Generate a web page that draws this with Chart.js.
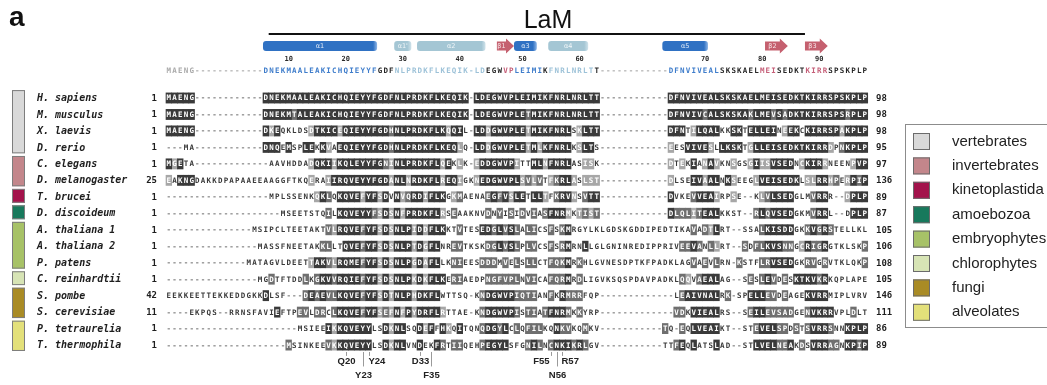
<!DOCTYPE html>
<html>
<head>
<meta charset="utf-8">
<title>LaM alignment</title>
<script src="https://cdn.jsdelivr.net/npm/chart.js@4.4.1/dist/chart.umd.min.js"></script>
<style>
  body { margin: 0; background: #ffffff; }
  canvas { display: block; }
</style>
</head>
<body>
<canvas id="alignChart" width="1047" height="385"></canvas>
<script>
// rows of the alignment, top to bottom
const species = ['H. sapiens', 'M. musculus', 'X. laevis', 'D. rerio', 'C. elegans', 'D. melanogaster',
  'T. brucei', 'D. discoideum', 'A. thaliana 1', 'A. thaliana 2', 'P. patens', 'C. reinhardtii',
  'S. pombe', 'S. cerevisiae', 'P. tetraurelia', 'T. thermophila'];
const startNums = [1, 1, 1, 1, 1, 25, 1, 1, 1, 1, 1, 1, 42, 11, 1, 1];
const endNums = [98, 98, 98, 95, 97, 136, 89, 87, 105, 106, 108, 105, 146, 111, 86, 89];

// aligned sequences, split in blocks with '|' (17, 36, 1, 22, 12, 35 columns)
const sequences = [
  'MAENG------------|DNEKMAALEAKICHQIEYYFGDFNLPRDKFLKEQIK|-|LDEGWVPLEIMIKFNRLNRLTT|------------|DFNVIVEALSKSKAELMEISEDKTKIRRSPSKPLP',
  'MAENG------------|DNEKMTALEAKICHQIEYYFGDFNLPRDKFLKEQIK|-|LDEGWVPLETMIKFNRLNRLTT|------------|DFNVIVCALSKSKAKLMEVSADKTKIRRSPSRPLP',
  'MAENG------------|DKEQKLDSDTKICEQIEYYFGDHNLPRDKFLKQQIL|-|LDDGWVPLETMIKFNRLSKLTT|------------|DFNTILQALKKSKTELLEINEEKCKIRRSPAKPLP',
  '---MA------------|DNQEMSPLEKKVAEQIEYYFGDHNLPRDKFLKEQLQ|-|LDDGWVPLETMLKFNRLKSLTS|------------|EESVIVESLLKSKTGLLEISEDKTKIRRDPNKPLP',
  'MGETA------------|-AAVHDDADQKIIKQLEYYFGNINLPRDKFLQEKLK|-|EDDGWVPITTMLNFNRLASISK|------------|DTEKIANAVKNSGSGIISVSEDNCKIRRNEENPVP',
  'EAKNGDAKKDPAPAAEE|AAGGFTKQERAIIRQVEYYFGDANLNRDKFLREQIG|K|NEDGWVPLSVLVTFKRLASLST|------------|DLSEIVAALNKSEEGLVEISEDKLSLRRHPERPIP',
  '-----------------|-MPLSSENKQKLQKQVEFYFSDVNVQRDIFLKGKMA|E|NAEGFVSLETLLTFKRVNSVTT|------------|DVKEVVEAIRPSE--KLVLSEDGLMVRRR--DPLP',
  '-----------------|---MSEETSTQILKQVEYYFSDSNFPRDKFLRSEAA|K|NVDNYISIDVIASFNRMKTIST|------------|DLQLITEALKKST--RLQVSEDGKMVRRL--DPLP',
  '---------------MS|IPCLTEETAKTVLRQVEFYFSDSNLPIDDFLKKTVT|E|SEDGLVSLALICSFSKMRGYLK|LGDSKGDDIPED|TIKAVADTLRT--SSALKISDDGKKVGRSTELLKL',
  '----------------M|ASSFNEETAKKLLTQVEFYFSDSNLPTDGFLNREVT|K|SKDGLVSLPLVCSFSRMRNLLG|LGNINREDIPPR|IVEEVANLLRT--SDFLKVSNNGCRIGRGTKLSKP',
  '--------------MAT|AGVLDEETTAKVLRQMEFYFSDSNLPGDAFLLKNIE|E|SDDDMVELSLLCTFQKMRKHLG|VNESDPTKFPAD|KLAGVAEVLRN-KSTFLRVSEDGKRVGRVTKLQKP',
  '----------------M|GDTFTDDLKGKVVRQIEFYFSDSNLPKDKFLKERIA|E|DPNGFVPLNVICAFQRMRDLIG|VKSQSPDAVPAD|KLQQVAEALAG--SESLEVDESKTKVKRKQPLAPE',
  'EEKKEETTEKKEDDGKK|DLSF---DEAEVLKQVEFYFSDTNLPHDKFLWTTSQ|-|KNDGWVPIQTIANFKRMRRFQP|------------|-LEAIVNALRK-SPELLEVDEAGEKVRRMIPLVRV',
  '----EKPQS--RRNSFA|VIEFTPEVLDRCLKQVEFYFSEFNFPYDRFLRTTAE|-|KNDGWVPISTIATFNRMKKYRP|------------|-VDKVIEALRS--SEILEVSADGENVKRRVPLDLT',
  '-----------------|------MSIEEIKKQVEYYLSDKNLSQDEFFHKQIT|Q|NQDGYLCLQFILKQNKVKQMKV|-----------T|Q-EQLVEAIKT--STEVELSPDSTSVRRSNNKPLP',
  '-----------------|----MSINKEEVKKQVEYYLSDKNLVNDEKFRTIIQ|E|HPEGYLSFGNILNCNKIKRLGV|-----------T|TFEQLATSLAD--STLVELNEAKDSVRRAGNKPIP'
];

// shading: 3 dark, 2 mid grey, 1 light grey, 0 none
const shading = [
  '33333000000000000|333333333333333333333333333333333333|0|3333333333333333333333|000000000000|33333333333333333333333333333333333',
  '33333000000000000|333332333333333333333333333333333333|0|3333333332333333333333|000000000000|33333323333333233323233333333332333',
  '33333000000000000|313000001333313333333323333333331330|0|3313333331333333301333|000000000000|33301333300330333330133033333313333',
  '00000000000000000|333030033031033333333323333333333310|0|3313333331313333301330|000000000000|10033331033330133333333333331023333',
  '31300000000000000|000000001333133333333213333333313010|0|1333333100331333300110|000000000000|10103013100100131133330133310000133',
  '10333000000000000|000000001001333333333313313333313310|0|1333333312120123310111|000000000000|10003313303100013333333011331201323',
  '00000000000000000|000000000132033331331303123313330120|0|0023231330331023310233|000000000000|30002333100100001233330002330001333',
  '00000000000000000|000000000002033333321313133333310200|0|0020202020202333101212|000000000000|32221233300000023233330002330000333',
  '00000000000000000|000000000002133332331313331313330020|0|0332323202200202300000|000000000000|00002021300000002333330023232000000',
  '00000000000000000|000000000022003332331313331313300220|0|0022323202200202300300|000000000000|00223202100002022333220132230000002',
  '00000000000000000|000000001332133332331313331313300220|0|0222020202200222302000|000000000000|00002020200020002233330022020000002',
  '00000000000000000|020000020233233332331313331313330220|0|0022222202200222302000|000000000000|00210233300000202320203333230000000',
  '00000000000000000|300000023232233332331313331333300000|0|0233333222200203222000|000000000000|00233333302000333220200033330000000',
  '00000000000000000|003000220220233332331213131333310000|0|0233333202202333202000|000000000000|02203333300000233222220023333000200',
  '00000000000000000|000000000003133333300313300313031030|0|0233230202220032200200|000000000002|00203333300000023332202023332003333',
  '00000000000000000|000020000002133333300313300300320220|0|0233330002320233323200|000000000000|02303000300000033332230203332203323'
];

// colour code of the reference line (g grey, b helix, l light helix, r strand, k plain)
const refColors = 'ggggggggggggggggg|bbbbbbbbbbbbbbbbbbbbkkklllllllllllll|l|llkkkrrbbbbbkllllllllk|gggggggggggg|bbbbbbbbbkkkkkkkrrrkkkkkrrrrkkkkkkk';

// secondary structure elements (alignment columns)
const ssLabels = ['α1', "α1'", 'α2', 'β1', 'α3', 'α4', 'α5', 'β2', 'β3'];
const ssKinds = ['helix', 'pale', 'pale', 'strand', 'helix', 'pale', 'helix', 'strand', 'strand'];
const ssFirstCol = [17, 40, 44, 58, 61, 67, 87, 105, 112];
const ssLastCol = [36, 42, 55, 60, 64, 73, 94, 108, 115];

const rulerTicks = [10, 20, 30, 40, 50, 60, 70, 80, 90];

const siteLabels = ['Q20', 'Y23', 'Y24', 'D33', 'F35', 'F55', 'N56', 'R57'];
const siteTier = [0, 1, 0, 0, 1, 0, 1, 0];
const siteAlign = ['center', 'center', 'left', 'center', 'center', 'right', 'center', 'left'];

const groupNames = ['vertebrates', 'invertebrates', 'kinetoplastida', 'amoebozoa', 'embryophytes', 'chlorophytes', 'fungi', 'alveolates'];
const groupColors = ['#d9d9d9', '#c3868b', '#a3124b', '#17795c', '#a7c267', '#d7e4b5', '#a98b25', '#e3e07a'];
const groupFirstRow = [0, 4, 6, 7, 8, 11, 12, 14];
const groupLastRow = [3, 5, 6, 7, 10, 11, 13, 15];

// ---- layout ----
const NCOL = 123;
const SEGMENTS = [17, 36, 1, 22, 12, 35];
const COL_W = 5.705, ALIGN_LEFT = 166;
const ROW_H = 16.47, FIRST_ROW_Y = 98;
const SHADE_FILL = { '3': '#3a3a3a', '2': '#6f6f6f', '1': '#a7a7a7' };
const REF_FILL = { g: '#aaaaaa', b: '#3f7dcb', l: '#9dc2d8', r: '#c55f78', k: '#262626' };
const RES_FONT = 'bold 7.5px "DejaVu Sans Mono", monospace';

function joinSegments(str) {
  return str.split('|').map((part, i) => {
    const n = SEGMENTS[i];
    if (part.length >= n) return part.slice(0, n);
    return part + part.slice(-1).repeat(n - part.length);
  }).join('');
}

const seqRows = sequences.map(joinSegments);
const shadeRows = shading.map(joinSegments);
const refRow = seqRows[0];
const refColorRow = joinSegments(refColors);

function columnOfResidue(seq, n) {
  let k = 0;
  for (let c = 0; c < seq.length; c++) {
    if (seq[c] !== '-') {
      k++;
      if (k === n) return c;
    }
  }
  return -1;
}

const levels = ['3', '2', '1'];
const cellData = { '3': [], '2': [], '1': [] };
seqRows.forEach((s, r) => {
  for (let c = 0; c < NCOL; c++) {
    const lv = shadeRows[r][c];
    if (cellData[lv] && s[c] !== '-') cellData[lv].push({ x: c, y: [r - 0.31, r + 0.31] });
  }
});

const decor = {
  id: 'alignmentDecor',
  beforeDatasetsDraw(chart) {
    const { ctx, scales: { x, y } } = chart;
    const px = c => x.getPixelForValue(c);
    const py = r => y.getPixelForValue(r);
    ctx.save();

    // panel letter and protein name
    ctx.fillStyle = '#111';
    ctx.textBaseline = 'alphabetic';
    ctx.textAlign = 'left';
    ctx.font = 'bold 28px "Liberation Sans", Arial, sans-serif';
    ctx.fillText('a', 9, 26);
    ctx.textAlign = 'center';
    ctx.font = '25px "Liberation Sans", Arial, sans-serif';
    ctx.fillText('LaM', 548, 28);
    ctx.strokeStyle = '#111';
    ctx.lineWidth = 2;
    ctx.beginPath();
    ctx.moveTo(px(17.5), 34);
    ctx.lineTo(px(111.5), 34);
    ctx.stroke();

    // secondary structure
    const yc = py(-3.15);
    ssLabels.forEach((lab, i) => {
      const x0 = px(ssFirstCol[i] - 0.5), x1 = px(ssLastCol[i] + 0.5);
      let textX = (x0 + x1) / 2;
      if (ssKinds[i] === 'strand') {
        const head = 8;
        ctx.fillStyle = '#c5606f';
        ctx.beginPath();
        ctx.moveTo(x0, yc - 4.5);
        ctx.lineTo(x1 - head, yc - 4.5);
        ctx.lineTo(x1 - head, yc - 7.5);
        ctx.lineTo(x1, yc);
        ctx.lineTo(x1 - head, yc + 7.5);
        ctx.lineTo(x1 - head, yc + 4.5);
        ctx.lineTo(x0, yc + 4.5);
        ctx.closePath();
        ctx.fill();
        textX = (x0 + x1 - head) / 2;
      } else {
        const base = ssKinds[i] === 'helix' ? '#2f71c3' : '#a4c6d4';
        const edge = ssKinds[i] === 'helix' ? '#8fb6e6' : '#cfe2ea';
        const g = ctx.createLinearGradient(x0, 0, x1, 0);
        g.addColorStop(0, base);
        g.addColorStop(Math.max(0, 1 - 4 / (x1 - x0)), base);
        g.addColorStop(1, edge);
        ctx.fillStyle = g;
        ctx.beginPath();
        ctx.roundRect(x0, yc - 5, x1 - x0, 10, 3);
        ctx.fill();
      }
      ctx.fillStyle = 'rgba(255,255,255,0.85)';
      ctx.font = '6.5px "DejaVu Sans", sans-serif';
      ctx.textAlign = 'center';
      ctx.textBaseline = 'middle';
      ctx.fillText(lab, textX, yc + 0.5);
    });

    // ruler numbers
    ctx.fillStyle = '#2b2b2b';
    ctx.font = 'bold 7px "DejaVu Sans Mono", monospace';
    ctx.textAlign = 'center';
    ctx.textBaseline = 'middle';
    rulerTicks.forEach(t => ctx.fillText(String(t), px(columnOfResidue(refRow, t)), py(-2.37)));

    // taxonomic group bars on the left
    groupNames.forEach((g, i) => {
      const top = py(groupFirstRow[i] - 0.48), bottom = py(groupLastRow[i] + 0.36);
      ctx.fillStyle = groupColors[i];
      ctx.fillRect(12, top, 13, bottom - top);
      ctx.strokeStyle = '#7d7d7d';
      ctx.lineWidth = 1;
      ctx.strokeRect(12.5, top + 0.5, 12, bottom - top - 1);
    });

    ctx.restore();
  },
  afterDatasetsDraw(chart) {
    const { ctx, scales: { x, y } } = chart;
    const px = c => x.getPixelForValue(c);
    const py = r => y.getPixelForValue(r);
    ctx.save();
    ctx.textAlign = 'center';
    ctx.textBaseline = 'middle';

    // reference line
    ctx.font = RES_FONT;
    for (let c = 0; c < NCOL; c++) {
      ctx.fillStyle = REF_FILL[refColorRow[c]] || '#262626';
      ctx.fillText(refRow[c], px(c), py(-1.64));
    }

    // residues
    seqRows.forEach((s, r) => {
      const yy = py(r) + 0.5;
      for (let c = 0; c < NCOL; c++) {
        const ch = s[c];
        if (ch === '-') ctx.fillStyle = '#7a7a7a';
        else ctx.fillStyle = shadeRows[r][c] !== '0' ? '#ffffff' : '#3a3a3a';
        ctx.fillText(ch, px(c), yy);
      }
    });

    // species names and residue numbers
    species.forEach((name, r) => {
      const yy = py(r) + 0.5;
      ctx.fillStyle = '#1e1e1e';
      ctx.textAlign = 'left';
      ctx.font = 'bold italic 10px "DejaVu Sans Mono", monospace';
      ctx.fillText(name, 37, yy);
      ctx.font = 'bold 9px "DejaVu Sans Mono", monospace';
      ctx.textAlign = 'right';
      ctx.fillText(String(startNums[r]), 157, yy);
      ctx.textAlign = 'left';
      ctx.fillText(String(endNums[r]), 876, yy);
    });

    // key residues under the alignment
    ctx.strokeStyle = '#9a9a9a';
    ctx.lineWidth = 1;
    ctx.fillStyle = '#222';
    ctx.font = 'bold 9.5px "Liberation Sans", Arial, sans-serif';
    siteLabels.forEach((lab, i) => {
      const col = columnOfResidue(refRow, parseInt(lab.slice(1), 10));
      const xx = Math.round(px(col)) + 0.5;
      const yEnd = siteTier[i] ? py(16.3) : py(15.66);
      ctx.beginPath();
      ctx.moveTo(xx, py(15.42));
      ctx.lineTo(xx, yEnd);
      ctx.stroke();
      ctx.textAlign = siteAlign[i];
      const tx = siteAlign[i] === 'left' ? xx - 1 : siteAlign[i] === 'right' ? xx - 2 : xx;
      ctx.fillText(lab, tx, siteTier[i] ? py(16.82) : py(15.97));
    });

    // legend box
    ctx.strokeStyle = '#8c8c8c';
    ctx.strokeRect(905.5, 124.5, 160, 203);
    ctx.font = '15px "Liberation Sans", Arial, sans-serif';
    ctx.textAlign = 'left';
    ctx.textBaseline = 'middle';
    groupNames.forEach((g, i) => {
      const top = 133 + i * 24.4;
      ctx.fillStyle = groupColors[i];
      ctx.fillRect(913, top, 17, 17);
      ctx.strokeStyle = '#6b6b6b';
      ctx.strokeRect(913.5, top + 0.5, 16, 16);
      ctx.fillStyle = '#222';
      ctx.fillText(g, 952, top + 8.5);
    });

    ctx.restore();
  }
};

new Chart(document.getElementById('alignChart'), {
  type: 'bar',
  data: {
    datasets: levels.map(lv => ({
      label: 'conservation ' + lv,
      data: cellData[lv],
      backgroundColor: SHADE_FILL[lv],
      borderWidth: 0,
      grouped: false,
      barPercentage: 1,
      categoryPercentage: 1
    }))
  },
  options: {
    responsive: false,
    devicePixelRatio: 1,
    animation: false,
    layout: { padding: 0 },
    scales: {
      x: { type: 'linear', min: -ALIGN_LEFT / COL_W - 0.5, max: (1047 - ALIGN_LEFT) / COL_W - 0.5, offset: false, display: false },
      y: { type: 'linear', min: -FIRST_ROW_Y / ROW_H, max: (385 - FIRST_ROW_Y) / ROW_H, reverse: true, display: false }
    },
    plugins: { legend: { display: false }, tooltip: { enabled: false } }
  },
  plugins: [decor]
});
</script>
</body>
</html>
